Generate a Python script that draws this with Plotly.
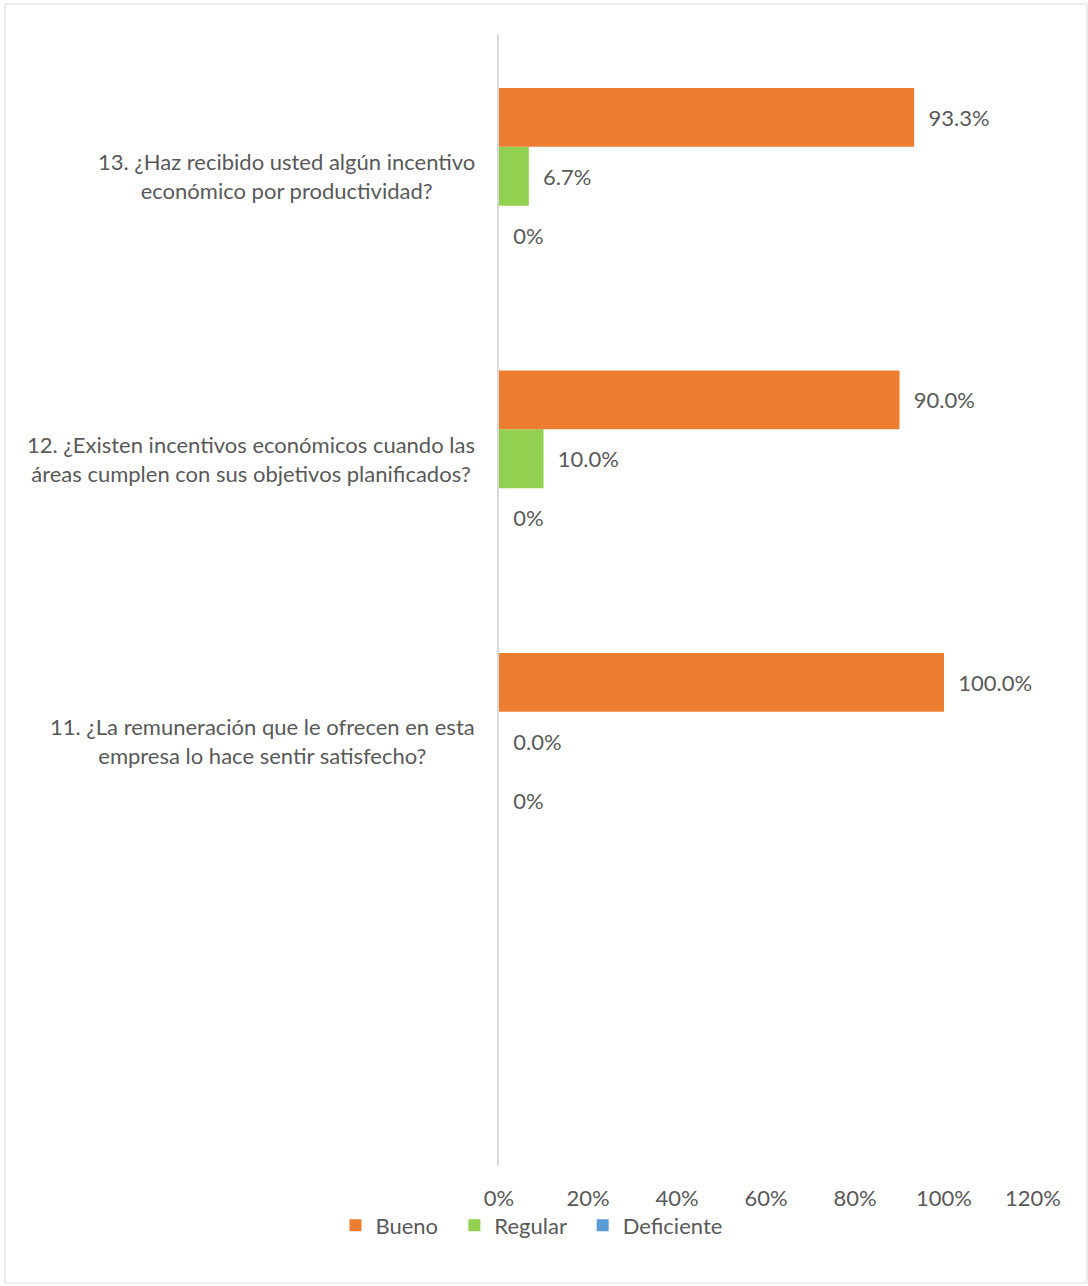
import plotly.graph_objects as go

# Survey questions (bottom to top on the chart)
questions = [
    "11. ¿La remuneración que le ofrecen en esta<br>empresa lo hace sentir satisfecho?",
    "12. ¿Existen incentivos económicos cuando las<br>áreas cumplen con sus objetivos planificados?",
    "13. ¿Haz recibido usted algún incentivo<br>económico por productividad?",
]
keys = ["q11", "q12", "q13"]

# Share of answers per rating
bueno = [1.000, 0.900, 0.933]
regular = [0.000, 0.100, 0.067]
deficiente = [0.0, 0.0, 0.0]

x_ticks = [0, 0.2, 0.4, 0.6, 0.8, 1.0, 1.2]

TEXT = "#595959"
FONT = "Lato"
FS = 22

W, H = 1088, 1286
ML, MR, MT, MB = 499, 55, 35, 121

NB = "\u00a0"

fig = go.Figure()

# Plotly stacks grouped horizontal bars from the bottom, so the
# series are added bottom-up; the legend is reversed back.
series = [
    ("Deficiente", deficiente, "#5B9BD5", ".0%"),
    ("Regular", regular, "#92D050", ".1%"),
    ("Bueno", bueno, "#ED7D31", ".1%"),
]
for name, vals, color, fmt in series:
    fig.add_trace(go.Bar(
        y=keys, x=vals, name=name + NB * 2, orientation="h",
        marker=dict(color=color, line=dict(width=0)),
        texttemplate=NB * 2 + "%{x:" + fmt + "}",
        textposition="outside",
        constraintext="none",
        cliponaxis=False,
        textfont=dict(family=FONT, size=FS, color=TEXT),
        hoverinfo="skip",
    ))

# Centered, wrapped category labels
for key, label in zip(keys, questions):
    fig.add_annotation(
        x=0, xref="paper", y=key, yref="y",
        text=label, showarrow=False,
        xanchor="right", yanchor="middle", xshift=-22,
        align="center",
        font=dict(family=FONT, size=FS, color=TEXT),
    )

# Light chart-area border
fig.add_shape(
    type="rect", xref="paper", yref="paper",
    x0=(5 - ML) / (W - ML - MR), x1=(1087 - ML) / (W - ML - MR),
    y0=(H - MB - 1283) / (H - MT - MB), y1=(H - MB - 4) / (H - MT - MB),
    line=dict(color="#D9D9D9", width=1), layer="below",
)

fig.update_layout(
    width=W, height=H,
    margin=dict(l=ML, r=MR, t=MT, b=MB, autoexpand=False),
    paper_bgcolor="white", plot_bgcolor="white",
    barmode="group", bargap=0.375, bargroupgap=0,
    font=dict(family=FONT, size=FS, color=TEXT),
    showlegend=True,
    legend=dict(
        orientation="h", traceorder="reversed",
        xref="container", yref="container",
        x=0.494, xanchor="center", y=0.047, yanchor="middle",
        bgcolor="rgba(0,0,0,0)",
        font=dict(family=FONT, size=FS, color=TEXT),
        itemwidth=30,
    ),
    xaxis=dict(
        range=[0, 1.2], tickvals=x_ticks, tickformat=".0%",
        showgrid=False, zeroline=False, showline=False,
        ticks="", ticklabelstandoff=18, automargin=False,
        tickfont=dict(family=FONT, size=FS, color=TEXT),
    ),
    yaxis=dict(
        type="category", categoryorder="array", categoryarray=keys,
        range=[-1.5, 2.5], automargin=False,
        showticklabels=False, showgrid=False, zeroline=False,
        showline=True, linecolor="#D9D9D9", linewidth=2, ticks="",
    ),
)

fig.write_html("out.html")
